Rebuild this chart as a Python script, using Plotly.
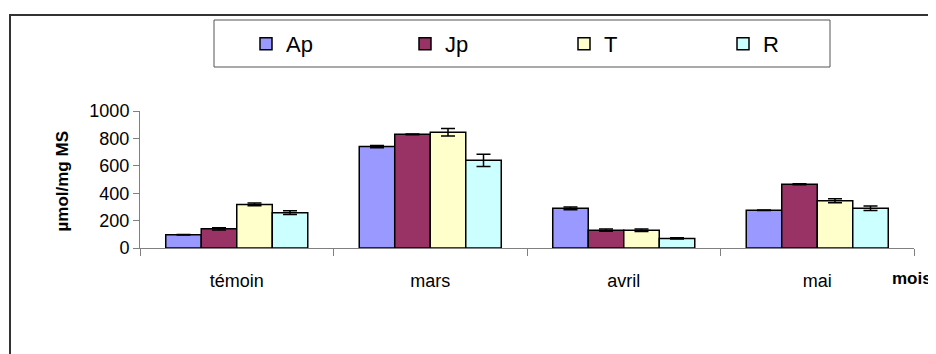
import plotly.graph_objects as go

months = ["témoin", "mars", "avril", "mai"]
series = ["Ap", "Jp", "T", "R"]

ap = [97, 740, 290, 275]
jp = [140, 830, 130, 465]
t = [318, 845, 130, 345]
r = [258, 640, 70, 290]

ap_err = [2, 8, 10, 2]
jp_err = [8, 3, 8, 4]
t_err = [10, 28, 9, 14]
r_err = [14, 45, 4, 16]

colors = ["#9999FF", "#993366", "#FFFFCC", "#CCFFFF"]
values = [ap, jp, t, r]
errors = [ap_err, jp_err, t_err, r_err]

FONT = "Liberation Sans, Arial, sans-serif"

# the html body adds an 8px margin, so the figure is a bit smaller
OFF = 8
W, H = 936 - OFF, 354 - OFF
# plot area in page pixels: x 140..914, y 111..248
L, T = 140 - OFF, 111 - OFF
R, B = W - (914 - OFF), H - (248 - OFF)
PW, PH = W - L - R, H - T - B


def px(x):
    # page pixel -> paper x
    return (x - OFF - L) / PW


def py(y):
    # page pixel -> paper y
    return (H - B - (y - OFF)) / PH


fig = go.Figure()
for name, vals, err, col in zip(series, values, errors, colors):
    fig.add_trace(go.Bar(
        x=months, y=vals, name=name,
        marker=dict(color=col, line=dict(color="black", width=1.5)),
        error_y=dict(type="data", array=err, visible=True,
                     color="black", thickness=1.5, width=7),
    ))

fig.update_layout(
    width=W, height=H,
    margin=dict(l=L, r=R, t=T, b=B),
    paper_bgcolor="white", plot_bgcolor="white",
    barmode="group", bargap=0.266, bargroupgap=0,
    font=dict(family=FONT, size=18, color="black"),
    showlegend=True,
    legend=dict(orientation="h", x=px(246), y=py(44), xanchor="left", yanchor="middle",
                bgcolor="rgba(0,0,0,0)", borderwidth=0,
                font=dict(size=22), entrywidth=114, entrywidthmode="pixels",
                traceorder="normal"),
    xaxis=dict(showline=True, linecolor="#808080", linewidth=1,
               ticks="outside", tickson="boundaries", ticklen=7, tickcolor="#808080",
               showgrid=False, ticklabelstandoff=16, fixedrange=True),
    yaxis=dict(range=[0, 1000], dtick=200, showline=True, linecolor="#808080", linewidth=1,
               ticks="outside", ticklen=6, tickcolor="#808080", showgrid=False,
               zeroline=False, fixedrange=True),
    shapes=[
        # outer chart frame
        dict(type="rect", xref="paper", yref="paper",
             x0=px(10), y0=py(370), x1=px(950), y1=py(15),
             line=dict(color="#333333", width=2)),
        # legend frame
        dict(type="rect", xref="paper", yref="paper",
             x0=px(214), y0=py(67), x1=px(830), y1=py(20),
             line=dict(color="#555555", width=1)),
    ],
    annotations=[
        dict(text="<b>µmol/mg MS</b>", xref="paper", yref="paper",
             x=px(50), y=py(182), textangle=-90, showarrow=False,
             font=dict(size=17)),
        dict(text="<b>mois</b>", xref="paper", yref="paper",
             x=px(890), y=py(278), xanchor="left", yanchor="middle", showarrow=False,
             font=dict(size=17)),
    ],
)

fig.write_html("out.html")
